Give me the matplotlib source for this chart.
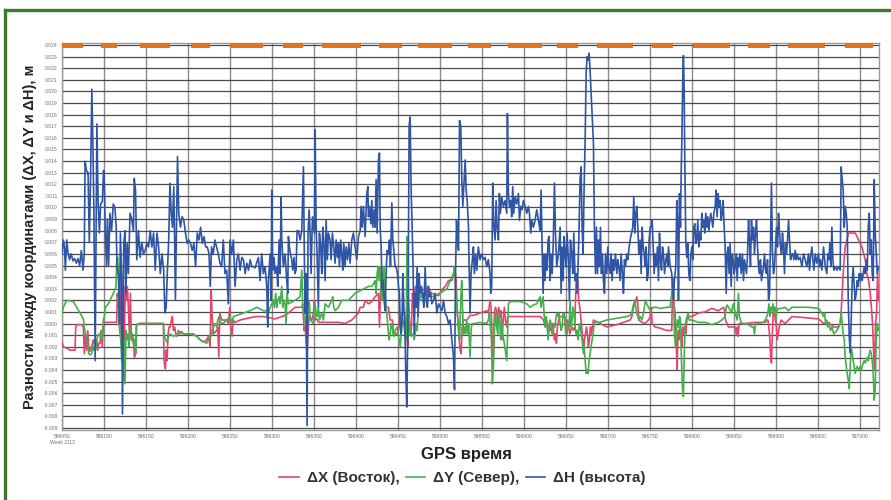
import numpy as np
import matplotlib.pyplot as plt
from matplotlib.lines import Line2D

plt.rcParams['font.family'] = ['Liberation Sans', 'DejaVu Sans']

# GPS время, секунды (смещение от T0), значения в мм
T0 = 596000
x_ticks = list(range(596050, 597001, 50))
x_labels = [str(v) for v in x_ticks]
x_labels[0] = '596050\nWeek 2112'
y_ticks_mm = list(range(-9, 25))

# полоса статуса решения сверху (начало, конец), сек от T0
status_bar = [(50, 75), (96, 115), (143, 179), (204, 226), (250, 289), (313, 337),
              (360, 406), (427, 455), (474, 514), (533, 561), (581, 621), (639, 664),
              (687, 730), (752, 777), (801, 845), (867, 893), (914, 958), (982, 1015)]

# ΔX (Восток)
dX_pts = [
    (50, -1.6), (51.6, -2.0), (57.5, -2.2), (59.5, -2.3), (65.5, -2.3), (66.3, -0.3), (67.5, -0.1),
    (73.4, -0.1), (75.4, -0.3), (76.6, -2.6), (77.8, -0.9), (79.4, -2.3), (80.6, -0.6), (81.8, -2.0),
    (83.3, -2.4), (85.3, -2.0), (87.3, -1.4), (89.3, -2.0), (91.3, -1.4), (92.5, -2.3), (93.7, -1.7),
    (95.3, -1.7), (96.4, -0.6), (98.0, -2.0), (99.2, 0.0), (100.4, 0.1), (115.1, 0.1), (115.9, 2.6),
    (117.1, 1.4), (118.3, 3.2), (119.5, 1.4), (120.3, -0.9), (121.1, 3.2), (122.3, -0.3), (123.0, 2.6),
    (124.2, -1.4), (125.4, 3.2), (126.6, 2.0), (127.8, 3.2), (129.0, 1.4), (130.2, -0.9), (131.4, 2.6),
    (132.6, -1.4), (133.8, -0.9), (135.0, -1.4), (136.2, -2.9), (137.3, -2.6), (138.5, -0.1),
    (140.1, -0.1), (142.9, 0.0), (170.7, 0.0), (171.5, -3.2), (172.3, -3.7), (173.1, -3.9),
    (173.9, -2.3), (175.1, -3.2), (176.3, -0.9), (177.4, -0.3), (178.6, -0.3), (180.2, 0.3),
    (181.4, 0.6), (182.6, -0.6), (184.2, -0.3), (185.4, -0.9), (186.6, -1.1), (188.6, -0.6),
    (190.5, -0.9), (192.5, -0.7), (194.5, -0.9), (206.4, -0.9), (210.4, -1.1), (214.4, -1.4),
    (218.3, -1.6), (222.3, -1.4), (224.3, -1.1), (226.3, -2.0), (227.5, 2.9), (228.7, 0.6),
    (230.2, -0.9), (234.2, -0.6), (235.4, -0.3), (236.6, -2.9), (237.8, 0.9), (240.2, 0.3),
    (246.1, 0.3), (248.1, 0.0), (249.7, 1.4), (250.9, -0.3), (252.5, -1.1), (253.7, 0.3),
    (256.0, 0.1), (262.0, 0.3), (273.9, 0.5), (281.9, 0.6),
    (289.7, 0.6), (303.6, 0.4), (315.5, 0.7), (319.5, 0.9), (327.4, 1.4), (335.4, 1.4), (336.6, 1.7),
    (338.2, -0.6), (339.4, -0.3), (340.5, -1.4), (341.7, -2.6), (343.3, 0.0), (344.5, 0.6),
    (347.3, 0.3), (349.3, 0.9), (350.5, 2.0), (351.3, 0.3), (353.2, 0.4), (355.2, 0.1), (379.1, 0.1),
    (387.0, 0.0), (394.9, 0.3), (398.9, 0.6), (402.9, 0.9), (404.9, 1.4), (408.8, 1.4), (410.8, 2.0),
    (414.8, 1.7), (418.8, 1.9), (422.7, 2.3), (426.7, 2.6), (427.9, -0.3), (429.1, 2.6), (430.7, 4.3),
    (431.9, 3.7), (433.0, 4.9), (434.2, 2.6), (435.4, 1.4), (438.6, 1.4), (440.6, 0.3), (443.4, 0.3),
    (444.6, -0.9), (448.5, -0.9), (450.5, -0.6), (452.5, 0.6), (456.5, 0.9), (458.4, 0.6),
    (460.4, -0.9), (461.6, -2.0), (462.8, 1.4), (464.0, -0.3), (465.6, -0.9), (467.2, 2.6),
    (468.4, 1.4), (469.6, 2.6), (470.8, 3.2), (472.7, 2.3), (474.3, 3.2), (476.3, 2.6), (484.2, 2.6),
    (485.4, 3.2), (486.6, 2.9), (490.2, 2.6), (498.2, 2.4), (502.1, 2.9), (506.1, 3.2), (510.1, 3.7),
    (514.0, 3.7), (516.0, 4.3), (518.0, 4.6), (519.2, 3.7), (520.4, 1.4), (521.6, -0.3),
    (522.8, -1.4), (524.0, -2.3), (525.1, -2.6), (526.3, -0.3), (527.9, 0.3), (531.9, 0.3),
    (535.9, 0.7),
    (539.7, 0.7), (547.6, 0.9), (555.6, 1.1), (557.5, 0.9), (559.5, 2.0), (560.7, 1.4), (561.9, -0.9),
    (563.1, -3.6), (564.7, 0.9), (565.9, 1.4), (567.5, 1.1), (568.7, 0.0), (569.9, 1.4), (571.4, 0.6),
    (572.6, 1.1), (573.8, -1.4), (575.4, 0.6), (576.6, 1.4), (577.8, 0.3), (579.4, -0.3), (580.6, 0.6),
    (619.1, 0.6), (623.1, 0.3), (625.4, -0.3), (626.6, 0.3), (627.8, -0.3), (629.0, -0.9),
    (630.2, 0.0), (631.4, -0.6), (633.8, 0.0), (635.0, -0.6), (636.2, -1.4), (637.3, -0.9),
    (638.5, -1.7), (639.7, -0.3), (642.1, 0.6), (646.1, 0.6), (647.3, 0.9), (648.5, 0.6),
    (649.6, -0.9), (650.8, -0.3), (652.0, 0.3), (653.2, -0.3), (654.4, -0.9), (656.8, -0.3),
    (659.2, -0.6), (660.4, -0.3), (661.6, 2.9), (662.8, 4.3), (664.0, 3.7), (665.1, 2.0), (666.3, 1.4),
    (667.5, 0.6), (668.7, -0.4), (669.9, -1.4), (670.7, -2.6), (671.9, -1.4), (673.1, -0.9),
    (674.3, -0.3), (675.5, -0.9), (676.6, -2.0), (677.8, -1.4), (679.0, -0.3), (680.2, -0.9),
    (681.4, -0.3), (682.6, 0.3), (690.5, 0.0), (698.5, -0.3), (710.4, -0.1), (718.3, 0.1),
    (726.3, 0.3), (728.3, 0.6), (730.2, 1.4), (732.2, 1.7), (734.2, 2.3), (735.4, 1.7), (736.6, 0.3),
    (740.2, 0.1), (744.1, 0.0), (748.1, 0.3), (750.1, 0.6), (751.3, 1.4), (752.5, 0.0), (756.0, -0.3),
    (762.0, -0.4), (770.0, -0.6), (775.8, -0.6),
    (776.6, 2.6), (777.8, 2.0), (779.0, 1.4), (779.8, 0.9), (781.0, -0.9), (782.2, -4.0),
    (783.0, -1.4), (783.8, -0.6), (784.6, -1.4), (785.8, -0.3), (787.0, -0.9), (787.8, -2.0),
    (788.9, -0.3), (790.1, -0.9), (791.3, -0.3), (792.5, -0.9), (793.7, 0.3), (794.9, 0.6),
    (799.7, 0.6), (807.6, 0.9), (815.5, 1.0), (823.5, 1.3), (831.4, 1.1), (837.4, 1.4), (838.6, 1.1),
    (839.8, 0.3), (843.3, -0.3), (847.3, -0.3), (851.3, -0.3), (852.5, -0.9), (853.7, -0.3),
    (854.8, -1.1), (856.0, 0.0), (863.2, 0.0), (875.1, 0.1), (887.0, 0.1), (889.0, 0.3), (890.2, 0.3),
    (891.4, -0.3), (892.6, -1.4), (893.8, -3.2), (894.5, -3.4), (895.3, -1.4), (896.5, 0.9),
    (897.7, 1.4), (898.9, 0.3), (900.1, 0.0), (901.3, -1.4), (902.5, -0.9), (903.7, -0.3),
    (906.1, 0.3), (910.8, 0.0), (914.8, 0.3), (918.8, 0.6), (950.5, 0.4), (956.5, 0.0), (962.4, 0.1),
    (968.4, -0.3), (974.3, -0.3), (976.3, 0.0), (977.5, 1.1), (978.7, 2.6), (979.9, 4.3), (981.1, 5.7),
    (982.3, 6.6), (984.3, 7.2), (986.3, 7.8), (990.2, 7.8), (994.2, 7.8), (998.2, 7.2), (1002.1, 6.6),
    (1006.1, 5.5), (1008.1, 4.3), (1010.1, 3.7), (1012.1, 2.6), (1014.0, 0.9), (1015.2, -0.6),
    (1016.0, -2.3), (1017.2, -4.0), (1018.4, 0.0), (1019.6, 0.9), (1020.8, 4.3), (1022.0, 2.0),
]

# ΔY (Север)
dY_pts = [
    (50.0, 0.9), (51.6, 1.4), (55.6, 2.0), (63.5, 1.9), (67.5, 1.4), (71.4, 0.9), (75.4, 0.4),
    (76.6, -0.3), (77.8, -0.9), (79.4, -1.4), (80.6, -1.7), (81.8, -2.6), (83.3, -2.7), (85.3, -2.6),
    (86.5, -2.0), (87.7, -2.3), (88.9, -1.7), (90.1, -2.3), (91.3, -1.4), (92.5, -1.1), (93.7, -0.9),
    (95.3, -1.1), (96.4, -0.9), (97.6, -1.4), (99.2, 0.3), (100.4, 0.6), (101.6, 1.4), (105.2, 1.7),
    (109.2, 2.3), (111.1, 2.6), (114.3, 3.2), (115.1, 5.5), (116.3, 5.7), (117.1, 4.3), (117.9, 0.0),
    (119.1, -0.9), (119.9, -1.4), (121.1, -3.2), (122.3, -0.9), (123.0, -4.9), (123.8, -1.4),
    (125.0, -5.2), (126.2, -0.6), (127.4, -1.4), (128.6, -0.9), (129.8, -2.0), (131.0, -0.3),
    (132.2, -0.9), (133.4, -1.4), (135.0, -1.7), (136.2, -1.4), (137.3, -2.0), (138.1, -2.6),
    (138.9, -0.1), (140.9, 0.0), (170.7, 0.0), (171.9, -1.1), (174.7, -1.6), (177.0, -1.1),
    (178.6, -0.9), (182.6, -1.1), (186.6, -1.0), (190.5, -0.7), (194.5, -0.9), (202.4, -0.9),
    (210.4, -1.1), (214.4, -1.4), (222.3, -1.7), (225.5, -1.1), (227.5, -1.1), (228.7, -0.6),
    (230.2, -0.3), (232.2, 0.0), (234.2, -0.3), (235.4, 0.3), (237.0, 0.6), (238.2, 0.1), (242.1, 0.0),
    (250.1, 0.6), (252.1, 0.0), (254.1, 0.6), (258.0, 0.7), (266.0, 0.9), (273.9, 1.1), (281.9, 1.4),
    (289.7, 1.1), (293.7, 1.1), (294.9, 0.3), (295.7, 1.0), (299.7, 1.7), (301.6, 2.0), (302.8, 1.4),
    (304.4, 2.6), (305.6, 1.4), (306.8, 2.0), (308.4, 2.3), (309.6, 1.7), (310.8, 2.6), (311.6, 3.2),
    (312.8, 1.4), (313.9, 2.0), (315.5, 1.7), (316.7, 0.0), (317.9, 2.6), (319.5, 1.7), (327.4, 2.0),
    (333.4, 2.3), (335.4, 4.6), (336.6, 1.4), (337.8, 0.9), (339.4, 0.3), (340.5, -1.1), (341.7, -0.3),
    (343.3, 2.0), (344.5, 1.7), (345.7, 0.3), (349.3, 0.0), (351.3, 1.7), (352.5, 0.9), (353.6, 0.6),
    (355.2, 1.4), (356.4, 0.3), (357.6, 0.6), (359.2, 0.9), (361.2, 0.3), (363.2, 1.7), (367.1, 1.4),
    (371.1, 2.0), (372.3, 2.3), (373.5, 1.4), (375.1, 1.1), (379.1, 1.4), (383.0, 2.0), (391.0, 2.0),
    (398.9, 2.6), (406.8, 2.9), (414.8, 3.2), (418.8, 3.2), (420.7, 3.4), (422.7, 3.7), (423.9, 2.6),
    (425.1, 4.3), (426.3, 4.9), (427.5, 3.7), (428.7, 4.9), (429.9, 2.6), (431.1, 2.0), (432.2, 4.3),
    (433.4, 4.9), (434.6, 3.2), (435.8, 1.4), (437.0, 0.6), (438.2, -0.6), (439.4, -1.4),
    (440.6, -0.9), (441.8, 0.0), (443.0, -0.3), (444.2, -0.9), (445.3, -1.1), (446.5, -0.6),
    (448.9, -0.3), (451.3, -1.4), (452.5, -2.0), (453.7, -1.1), (454.9, 0.6), (457.3, -0.3),
    (458.4, -1.1), (459.6, -1.4), (460.8, 7.5), (462.0, 6.8), (463.2, -0.9), (464.4, -0.3),
    (465.6, -1.1), (468.0, -0.9), (469.2, -1.4), (470.4, -0.9), (471.6, 0.0), (472.7, -0.6),
    (473.9, 0.9), (475.1, 2.6), (476.3, 2.0), (478.3, 2.6), (490.2, 2.3), (502.1, 2.7), (508.1, 3.0),
    (512.1, 3.7), (516.0, 4.3), (517.2, 4.9), (518.4, 3.2), (519.6, 1.4), (520.8, 0.6), (522.0, 0.0),
    (523.2, -1.4),
    (525.0, 2.6), (525.8, 3.7), (527.0, 0.9), (527.8, -0.9), (529.0, -0.3), (530.2, -0.9),
    (531.7, 0.3), (532.9, -0.9), (534.1, 0.0), (535.7, -2.9), (536.9, -0.6), (538.1, 0.0),
    (541.7, 0.0), (547.6, 0.1), (555.6, 0.0), (557.5, 0.3), (558.7, 0.9), (559.9, -0.3),
    (561.1, -1.4), (562.3, -5.2), (563.5, -3.7), (564.7, -0.6), (565.9, 0.9), (567.5, -0.3),
    (568.7, -0.9), (569.9, 0.9), (571.0, 0.3), (572.2, -1.4), (573.4, 0.0), (574.6, -0.9),
    (575.8, -1.4), (577.0, -2.0), (578.2, -2.6), (579.4, -3.2), (580.2, -1.4), (581.4, 1.7),
    (583.4, 1.9), (595.3, 1.9), (603.2, 1.7), (607.2, 1.4), (611.1, 1.6), (615.1, 1.7), (617.1, 2.0),
    (619.1, 2.3), (620.3, 1.4), (621.5, 2.0), (622.7, 2.3), (623.8, 0.9), (625.0, -0.3), (626.2, 0.6),
    (627.4, 0.0), (628.6, -1.4), (629.8, -0.3), (631.0, 0.3), (632.2, 0.0), (633.4, -0.9),
    (634.6, -0.6), (635.8, 0.0), (637.0, -0.3), (638.1, 0.6), (639.3, 0.9), (640.5, 0.6), (641.7, 0.9),
    (642.9, 0.0), (644.1, -0.6), (645.3, -0.3), (646.5, 0.9), (647.7, 0.6), (648.9, 0.3),
    (650.0, -0.6), (651.2, -0.9), (652.4, 0.0), (653.6, -0.3), (654.8, 2.0), (656.0, -0.3),
    (657.2, 0.3), (658.4, 1.4), (659.6, 0.9), (660.8, -0.3), (662.0, -0.9), (663.1, -0.6),
    (664.3, -1.4), (665.5, -0.3), (666.7, 0.0), (667.9, -0.9), (669.1, -1.4), (670.3, -2.3),
    (671.5, -2.0), (672.7, -3.2), (673.9, -4.3), (675.1, -4.0), (676.2, -4.3), (677.4, -3.2),
    (678.6, -2.6), (679.8, -2.0), (681.0, -1.4), (682.2, -0.9), (683.4, 0.0), (684.6, 0.1),
    (690.5, 0.1), (698.5, 0.3), (706.4, 0.4), (714.4, 0.5), (722.3, 0.6), (726.3, 0.7), (728.3, 0.9),
    (729.4, 1.4), (730.6, 1.7), (731.8, 2.0), (733.0, 1.4), (734.2, 0.9), (735.4, 0.6), (736.6, 0.3),
    (738.2, 0.6), (740.2, 0.3), (742.2, 0.9), (743.3, 1.4), (744.5, 2.0), (746.1, 1.7), (750.1, 1.1),
    (754.1, 1.4), (758.0, 1.4), (762.0, 1.3), (770.0, 1.4), (773.9, 1.4),
    (775.8, 2.6), (776.6, 4.0), (777.8, 3.7), (779.0, -0.9), (780.2, -2.0), (781.4, -0.6),
    (782.6, 0.3), (783.8, -0.3), (785.0, 0.6), (786.2, 0.3), (787.4, -3.2), (788.5, -5.5),
    (789.7, -6.3), (790.5, -3.2), (791.7, -0.3), (792.9, 0.3), (794.1, 0.6), (795.3, 0.9),
    (796.5, 0.3), (799.7, 0.3), (807.6, 0.1), (815.5, 0.1), (823.5, -0.1), (831.4, 0.1), (835.4, 0.3),
    (839.4, 0.6), (840.6, 1.4), (841.7, 1.6), (843.3, 1.4), (845.7, 1.1), (846.9, 0.9), (848.1, 1.4),
    (849.3, 1.7), (851.3, 0.9), (852.5, 0.6), (853.7, 0.3), (855.2, 2.6), (856.4, 0.6), (857.6, 0.3),
    (858.8, 0.0), (861.2, 0.0), (867.2, -0.1), (871.1, -0.3), (873.1, -0.3), (874.3, -0.9),
    (875.5, 0.0), (879.1, 0.0), (885.0, 0.1), (887.0, 0.3), (889.0, 0.6), (890.2, 0.9), (891.4, 1.7),
    (892.6, 0.6), (893.8, 1.4), (895.0, 1.1), (896.2, 1.7), (897.3, 0.9), (898.5, 1.4), (899.7, 0.6),
    (900.9, 1.1), (902.9, 1.3), (906.9, 1.3), (910.8, 1.4), (914.8, 1.1), (918.8, 1.4), (926.7, 1.4),
    (938.6, 1.4), (950.5, 1.3), (952.5, 1.1), (954.5, 0.9), (956.5, 0.6), (957.7, 0.9), (958.9, 0.0),
    (960.1, 0.3), (961.3, -0.3), (962.4, 0.0), (963.6, -0.3), (964.8, -0.6), (966.4, -0.3),
    (967.6, -0.6), (968.8, -0.9), (972.4, -0.6), (974.3, -0.3), (976.3, 0.0), (977.5, 0.9),
    (978.7, 0.0), (979.9, -0.9), (981.1, -1.4), (982.3, -2.9), (983.5, -3.7), (984.7, -4.3),
    (985.9, -4.9), (987.0, -5.6), (988.2, -3.7), (989.4, -2.0), (990.6, -2.6), (991.8, -3.2),
    (993.0, -3.7), (994.2, -4.3), (995.4, -3.9), (996.6, -3.7), (997.8, -3.9), (999.0, -4.0),
    (1000.2, -3.7), (1001.3, -4.0), (1002.5, -3.7), (1003.7, -3.4), (1004.9, -3.2), (1006.1, -3.4),
    (1007.3, -3.2), (1008.5, -2.9), (1009.7, -3.2), (1010.9, -2.6), (1012.1, -2.3), (1013.3, -2.6),
    (1014.4, -3.2), (1015.6, -4.3), (1016.8, -6.6), (1018.0, -5.7), (1019.2, -1.4), (1020.4, 0.0),
    (1022.0, -0.6),
]

# ΔH (высота)
dH_pts = [
    (50, 6.0), (51.6, 7.2), (53, 6.5), (54, 4.6), (55.6, 7.2), (57, 6.2), (59, 5.5), (61, 6.0), (63, 5.4),
    (65, 5.6), (67, 5.2), (69, 5.6), (71, 5.0), (73, 6.3), (75, 4.6), (76.5, 6.0), (77.5, 14.0),
    (79, 13.2), (81, 13.0), (82.5, 7.0), (84, 12.5), (85.5, 20.2), (87, 14.5), (88, 9.5), (89.5, -3.2),
    (91.5, 17.2), (93, 10.5), (94.5, 7.8), (96, 10.3), (98, 10.5), (99.5, 13.2), (100.5, 12.0),
    (101.5, 7.8), (103, 5.0), (104, 9.0), (105.5, 5.0), (107, 9.5), (109, 8.0), (111, 10.3), (113, 10.0),
    (114.5, 8.3), (115.5, 4.9), (117.5, 4.0), (118.5, 0.0), (119.5, 7.8), (121, 4.0), (122, -7.8),
    (123.5, 6.9), (125, 8.0), (126, 2.6), (127.5, 6.9), (129, 4.3), (131, 9.5), (133, 9.0), (135, 8.0),
    (136, 12.5), (137.5, 11.5), (139, 5.5), (141, 8.0), (143, 5.7), (145, 7.0), (147, 6.0), (149, 6.3),
    (151, 6.9), (153, 6.6), (155, 8.0), (157, 6.6), (159, 7.8), (161, 4.6), (163, 7.8), (165, 6.6),
    (167, 4.3), (169, 6.0), (171, 4.6), (172.5, 0.9), (174, 1.4), (175.5, 4.6), (177, 7.2), (178.5, 12.1),
    (180, 9.5), (181.5, 8.3), (183, 11.8), (184, 7.5), (185, 2.0), (186, 7.2), (187.5, 14.4), (189, 9.5),
    (191, 8.3), (193, 9.2), (195, 8.9), (197, 7.8), (199, 6.9), (201, 7.2), (203, 6.9), (205, 6.3),
    (207, 6.9), (209, 4.9), (211, 7.8), (213, 7.2), (215, 8.3), (217, 6.9), (219, 7.5), (221, 6.6),
    (223, 6.6), (225, 6.0), (226.5, 3.2), (228, 6.6), (230, 6.0), (232, 7.2), (234, 6.6), (236, 6.0),
    (238, 5.2), (240, 4.9), (242, 7.2), (244, 4.3), (246, 4.6), (248, 1.7), (250, 7.2), (252, 6.0),
    (254, 7.2), (256, 3.2), (258, 5.5), (260, 6.0), (262, 4.6), (264, 5.7), (266, 5.5), (268, 4.3),
    (270, 5.2), (272, 4.6), (274, 5.5), (276, 4.9), (278, 4.9),
    (279.8, 4.8), (283.8, 5.7), (285.8, 3.7), (287.7, 6.0), (289.7, 4.3), (291.7, 4.9), (293.7, 3.2),
    (294.9, -0.3), (295.7, 3.7), (297.7, 6.0), (298.9, 2.0), (299.7, 11.5), (300.8, 4.6), (302.4, 5.7),
    (303.6, 4.3), (305.6, 4.9), (306.8, 3.2), (308.4, 7.2), (309.6, 4.3), (310.8, 10.9), (311.6, 7.2),
    (313.5, 4.9), (315.5, 6.0), (317.5, 3.7), (318.7, 2.6), (319.5, 7.5), (320.7, 6.6), (321.9, 6.0),
    (323.5, 5.5), (324.7, 4.6), (326.2, 5.7), (327.4, 4.3), (328.6, 4.6), (329.8, 8.0), (331.4, 8.0),
    (333.4, 7.2), (335.4, 8.0), (337.4, 13.5), (338.6, 4.9), (339.4, 0.9), (340.5, 4.3), (341.7, -8.8),
    (342.9, 7.8), (344.1, 9.8), (345.3, 8.0), (346.5, 4.3), (348.1, 9.2), (350.5, 7.8), (351.3, 16.7),
    (352.5, 8.3), (353.6, 6.0), (355.2, 1.4), (356.4, 7.8), (358.0, 6.6), (359.2, 4.3), (360.4, 8.3),
    (361.6, 7.2), (363.2, 3.7), (364.4, 8.9), (365.9, 5.5), (367.1, 7.8), (369.1, 7.2), (370.3, 5.5),
    (371.9, 7.8), (373.5, 6.6), (375.1, 5.2), (376.3, 7.2), (377.9, 5.7), (379.1, 6.9), (380.2, 4.9),
    (381.8, 7.2), (383.0, 6.0), (384.2, 4.6), (385.4, 6.9), (387.0, 4.9), (388.2, 6.6), (389.8, 5.5),
    (391.4, 6.9), (392.9, 5.2), (394.9, 7.2), (396.9, 7.8), (398.9, 6.6), (400.9, 5.5), (402.9, 7.5),
    (404.9, 8.0), (406.0, 10.1), (407.2, 8.3), (408.8, 10.1), (410.8, 7.5), (412.8, 11.2),
    (414.0, 11.8), (414.8, 9.2), (416.0, 10.1), (417.6, 8.6), (418.8, 10.6), (419.9, 8.3), (421.5, 9.8),
    (422.7, 8.3), (423.9, 12.4), (425.1, 7.8), (426.7, 14.1), (427.9, 14.7), (428.7, 8.3), (429.9, 6.6),
    (431.1, 2.9), (432.2, 3.7), (433.4, 2.0), (434.6, 1.1), (435.8, 4.3), (437.0, 6.3), (438.6, 6.0),
    (439.8, 7.2), (441.0, 4.9), (442.6, 10.4), (443.8, 7.2), (445.3, 6.0), (446.5, 4.9), (447.7, 4.9),
    (449.3, 4.3), (450.5, 3.2), (451.7, 2.6), (452.5, 0.0), (453.7, -0.9), (454.9, 0.6), (455.7, 4.3),
    (456.9, 1.4), (458.1, 0.0), (459.2, -4.3), (460.4, -7.2), (461.6, -0.9), (462.4, 7.2), (463.2, 17.0),
    (464.4, 17.8), (465.6, 11.5), (466.8, 8.3), (468.0, 4.3), (469.2, -0.9), (470.4, 2.6), (471.6, 1.4),
    (472.7, 4.9), (473.9, 0.6), (475.1, 4.3), (476.3, 2.6), (477.9, 3.2), (479.5, 2.3), (480.7, 1.4),
    (482.3, 4.9), (483.5, 2.0), (485.0, 1.4), (486.2, 3.2), (487.4, 2.3), (489.0, 2.6), (490.2, 1.7),
    (492.2, 2.0), (494.2, 2.6), (496.2, 0.9), (498.2, 1.7), (500.1, 1.4), (502.1, 1.1), (504.1, 2.0),
    (506.1, 0.9), (508.1, 0.6), (510.1, 0.0), (512.1, 0.3), (514.0, -1.4), (516.0, -2.9), (517.2, -5.7),
    (518.4, 4.3), (519.6, 8.9), (520.8, 7.2), (522.0, 6.3), (523.2, 17.5), (524.7, 17.0), (525.9, 12.4),
    (527.1, 10.1), (528.3, 11.8), (529.9, 14.1), (531.1, 11.5), (532.3, 10.6), (533.9, 8.3),
    (534.1, 6.9), (535.7, 0.9), (536.9, 4.3), (538.5, 5.5), (539.7, 6.6), (540.9, 4.3), (542.5, 6.0),
    (543.7, 4.6), (545.6, 6.6), (547.6, 5.5), (549.6, 6.0), (551.6, 5.5), (553.6, 5.7), (555.6, 4.9),
    (557.5, 5.5), (559.5, 4.3), (560.3, 2.6), (561.5, 3.2), (562.7, 12.1), (563.9, 8.6), (565.5, 7.2),
    (566.7, 10.6), (567.9, 8.3), (569.5, 7.2), (570.6, 11.2), (571.8, 9.5), (573.4, 10.9),
    (575.4, 10.1), (577.4, 10.6), (579.4, 9.5), (580.2, 18.1), (581.4, 11.2), (582.6, 10.1),
    (584.1, 10.6), (585.3, 9.2), (586.5, 11.8), (587.7, 9.5), (589.3, 10.9), (591.3, 10.3),
    (593.3, 11.2), (594.5, 8.9), (596.1, 10.1), (597.6, 9.8), (599.2, 10.6), (601.2, 10.1),
    (603.2, 9.5), (605.2, 10.1), (606.4, 9.5), (608.0, 7.8), (609.2, 8.9), (611.1, 8.3), (613.1, 8.9),
    (615.1, 9.8), (617.1, 8.9), (619.1, 8.0), (620.3, 11.5), (621.5, 6.6), (622.7, 2.6), (623.8, 6.0),
    (625.0, 3.7), (626.2, 6.0), (627.4, 4.6), (628.6, 7.2), (629.8, 7.5), (631.0, 3.7), (632.2, 6.0),
    (633.4, 4.3), (634.6, 6.6), (636.2, 12.1), (637.3, 8.0), (638.9, 4.9), (640.9, 6.0), (642.9, 8.3),
    (644.1, 2.6), (645.3, 6.6), (646.5, 3.7), (647.7, 7.5), (648.9, 6.0), (650.0, 4.9), (651.2, 7.8),
    (652.8, 5.5), (654.0, 2.0), (655.2, 7.2), (656.8, 6.0), (658.0, 4.3), (659.2, 7.8), (660.8, 3.7),
    (662.0, 4.3), (663.1, 2.6), (664.3, 4.9), (665.5, 8.3), (666.7, 12.4), (667.9, 13.5), (669.1, 8.3),
    (670.3, 6.0), (671.5, 11.8), (672.7, 15.8), (673.9, 21.6), (675.1, 23.0), (676.2, 22.7),
    (677.4, 23.3), (678.6, 21.8), (680.6, 18.7), (682.6, 15.5), (683.8, 8.0), (685.0, 4.3),
    (686.2, 8.3), (687.4, 4.3), (688.6, 7.2), (689.7, 4.9), (690.9, 8.3), (692.1, 4.3), (693.3, 6.0),
    (694.5, 3.7), (695.7, 2.6), (696.9, 6.0), (698.5, 4.3), (699.7, 6.6), (700.9, 4.9), (702.5, 4.3),
    (703.6, 6.0), (704.8, 3.7), (706.0, 5.5), (707.2, 4.6), (708.8, 6.0), (710.4, 4.3), (711.6, 5.5),
    (712.8, 4.9), (714.4, 3.7), (715.5, 6.0), (717.1, 4.3), (718.3, 2.6), (719.5, 5.5), (720.7, 4.9),
    (722.3, 6.0), (723.5, 5.5), (725.1, 6.6), (726.3, 7.2), (727.9, 7.8), (729.4, 8.3), (730.6, 10.9),
    (731.8, 7.8), (733.0, 9.5), (734.2, 10.1), (735.4, 8.3), (736.6, 6.0), (738.2, 7.2), (739.4, 4.3),
    (740.6, 8.3), (741.8, 6.6), (743.0, 6.0), (744.1, 4.9), (745.3, 6.6), (746.5, 3.7), (747.7, 4.3),
    (748.9, 7.2), (750.1, 8.3), (751.3, 8.3), (752.5, 8.9), (753.7, 6.6), (754.9, 4.3), (756.0, 6.0),
    (757.2, 4.9), (758.8, 6.6), (760.0, 3.7), (761.2, 7.8), (762.4, 5.5), (763.6, 4.6), (764.8, 6.6),
    (766.0, 6.0), (767.2, 4.3), (768.8, 5.5), (770.0, 6.0), (771.1, 4.9),
    (771.9, 6.6), (773.9, 4.9), (775.8, 4.3), (777.8, 2.0), (779.0, 3.7), (780.6, 4.9), (781.8, 10.6),
    (783.0, 8.3), (783.8, 2.0), (785.0, 11.2), (786.2, 8.3), (787.0, 12.9), (787.8, 15.8),
    (788.9, 21.0), (789.7, 23.1), (790.5, 20.4), (791.3, 14.4), (792.5, 7.2), (793.7, 5.7),
    (794.9, 6.9), (796.1, 4.3), (797.3, 3.7), (798.5, 6.0), (799.7, 6.6), (800.9, 5.5), (802.0, 8.3),
    (803.2, 8.6), (804.4, 6.9), (805.6, 7.2), (806.8, 8.9), (808.0, 6.6), (809.2, 7.8), (810.4, 7.2),
    (811.6, 9.5), (812.8, 8.3), (813.9, 8.9), (815.1, 7.8), (816.3, 9.5), (817.5, 8.3), (818.7, 9.2),
    (819.9, 8.0), (821.1, 8.9), (822.3, 9.5), (823.5, 8.9), (824.7, 8.3), (825.9, 9.5), (827.5, 10.1),
    (828.6, 11.5), (829.8, 9.2), (831.0, 11.2), (832.2, 10.1), (833.4, 10.6), (834.6, 8.9),
    (835.8, 9.5), (837.0, 10.6), (838.2, 8.3), (839.4, 6.6), (840.6, 2.6), (841.7, 6.0), (842.9, 6.6),
    (844.1, 4.3), (845.3, 6.9), (846.5, 3.2), (847.7, 6.0), (848.9, 5.5), (850.1, 4.3), (851.3, 4.9),
    (852.5, 6.0), (853.7, 3.7), (854.8, 5.7), (856.0, 4.9), (857.2, 6.0), (858.4, 4.3), (860.0, 6.0),
    (861.2, 3.7), (862.4, 5.5), (863.6, 4.9), (864.8, 4.3), (866.0, 6.0), (867.2, 8.9), (868.3, 7.2),
    (869.5, 4.9), (870.7, 8.9), (871.9, 7.2), (873.1, 8.3), (874.3, 6.0), (875.5, 7.8), (876.7, 8.9),
    (877.9, 6.6), (879.1, 4.9), (880.3, 4.3), (881.4, 5.5), (882.6, 3.7), (883.8, 4.3), (885.0, 4.9),
    (886.2, 6.0), (887.4, 4.6), (888.6, 4.3), (889.8, 5.5), (891.0, 2.0), (892.2, 2.6), (893.4, 7.2),
    (894.5, 12.1), (895.7, 6.0), (896.9, 4.3), (898.1, 4.9), (899.3, 6.6), (900.5, 8.3), (901.7, 6.6),
    (902.9, 9.5), (904.1, 7.8), (905.3, 6.6), (906.5, 6.0), (907.6, 7.8), (908.8, 6.6), (910.0, 4.3),
    (911.2, 6.9), (912.4, 6.0), (913.6, 7.2), (914.8, 8.9), (916.0, 7.2), (917.2, 5.5), (918.8, 6.0),
    (919.9, 6.0), (921.1, 5.5), (922.7, 6.3), (923.9, 5.5), (925.1, 6.0), (926.7, 5.5), (928.7, 5.7),
    (930.7, 4.9), (932.7, 6.0), (934.6, 5.5), (936.6, 4.9), (938.6, 6.0), (939.8, 4.6), (941.0, 5.7),
    (942.6, 6.6), (943.8, 5.5), (945.0, 4.6), (946.6, 6.0), (948.5, 5.2), (950.5, 6.0), (951.7, 4.9),
    (952.9, 5.5), (954.5, 4.6), (956.5, 6.6), (958.5, 4.9), (960.4, 4.3), (961.6, 6.0), (962.8, 5.5),
    (964.0, 6.9), (965.2, 4.9), (966.4, 8.3), (967.6, 5.5), (968.8, 4.6), (970.4, 4.9), (972.4, 4.6),
    (974.3, 4.9), (976.3, 4.6), (977.5, 13.5), (978.7, 12.4), (979.9, 11.5), (981.1, 8.3),
    (982.3, 10.1), (983.5, 9.5), (984.7, 8.3), (985.9, 2.0), (987.0, -1.0), (988.2, -2.5),
    (989.4, 0.3), (990.6, 3.7), (991.8, 4.9), (993.0, 3.2), (994.2, 2.0), (995.4, 2.6), (996.6, 3.7),
    (997.8, 3.2), (999.0, 4.3), (1000.2, 3.7), (1001.3, 4.3), (1002.5, 3.7), (1003.7, 4.3),
    (1004.9, 4.9), (1006.1, 4.3), (1007.3, 5.5), (1008.5, 4.6), (1009.7, 8.3), (1010.9, 9.5),
    (1012.1, 6.0), (1013.3, 7.2), (1014.4, 4.3), (1015.6, 3.7), (1016.8, 12.4), (1018.0, 7.8),
    (1019.2, 6.0), (1020.4, 4.3), (1022.0, 4.9),
]

series = [
    (dX_pts, '#e2466f', 'ΔX (Восток),'),
    (dY_pts, '#45b04b', 'ΔY (Север),'),
    (dH_pts, '#2f55a6', 'ΔH (высота)'),
]

fig = plt.figure(figsize=(8.91, 5.0), dpi=100)
fig.patch.set_facecolor('white')

# зелёная рамка вокруг рисунка (обрезана справа и снизу)
fig.add_artist(Line2D([5 / 891, 5 / 891], [0, 1 - 10 / 500], transform=fig.transFigure,
                      color='#3d7a2b', lw=2.4))
fig.add_artist(Line2D([5 / 891, 1], [1 - 10 / 500, 1 - 10 / 500], transform=fig.transFigure,
                      color='#3d7a2b', lw=2.4))

ax = fig.add_axes([62 / 891, 70 / 500, 817 / 891, 387 / 500])

handles = []
for pts, col, lab in series:
    arr = np.array(pts, dtype=float)
    t = T0 + arr[:, 0]
    v = arr[:, 1] * 0.001
    h, = ax.plot(t, v, color=col, lw=1.2, label=lab, zorder=3)
    handles.append(h)

# полоса статуса
bar_ranges = [(T0 + a, b - a) for a, b in status_bar]
ax.broken_barh(bar_ranges, (0.02374, 0.00044), facecolors='#e0741f', zorder=4)

ax.set_xlim(596050, 597022.5)
ax.set_ylim(-0.00918, 0.02418)
ax.set_xticks(x_ticks)
ax.set_xticklabels(x_labels)
ax.set_yticks([m * 0.001 for m in y_ticks_mm])
ax.set_yticklabels(['%.3f' % (m * 0.001) for m in y_ticks_mm])
ax.tick_params(length=0, labelsize=3.6, colors='#707070', pad=3)

ax.grid(True, axis='y', color='#4a4a4a', lw=0.9, zorder=1)
ax.grid(True, axis='x', color='#8a8a8a', lw=1.0, zorder=1)
ax.set_axisbelow(True)
for sp in ax.spines.values():
    sp.set_color('#9a9a9a')
    sp.set_linewidth(1.0)

fig.text(0.034, (70 + 387 / 2) / 500, 'Разности между координатами (ΔX, ΔY и ΔH), м',
         rotation=90, ha='center', va='center', fontsize=10.5, fontweight='bold', color='#222222')
fig.text(0.523, 0.09, 'GPS время', ha='center', va='center', fontsize=12,
         fontweight='bold', color='#222222')

fig.legend(handles=handles, loc='center', bbox_to_anchor=(0.519, 0.044), ncol=3,
           frameon=False, fontsize=11, handlelength=1.3, handletextpad=0.5,
           columnspacing=0.4, prop={'weight': 'bold', 'size': 11})
for txt in fig.legends[0].get_texts():
    txt.set_color('#333333')

fig.savefig('out.png', dpi=100, facecolor='white')
